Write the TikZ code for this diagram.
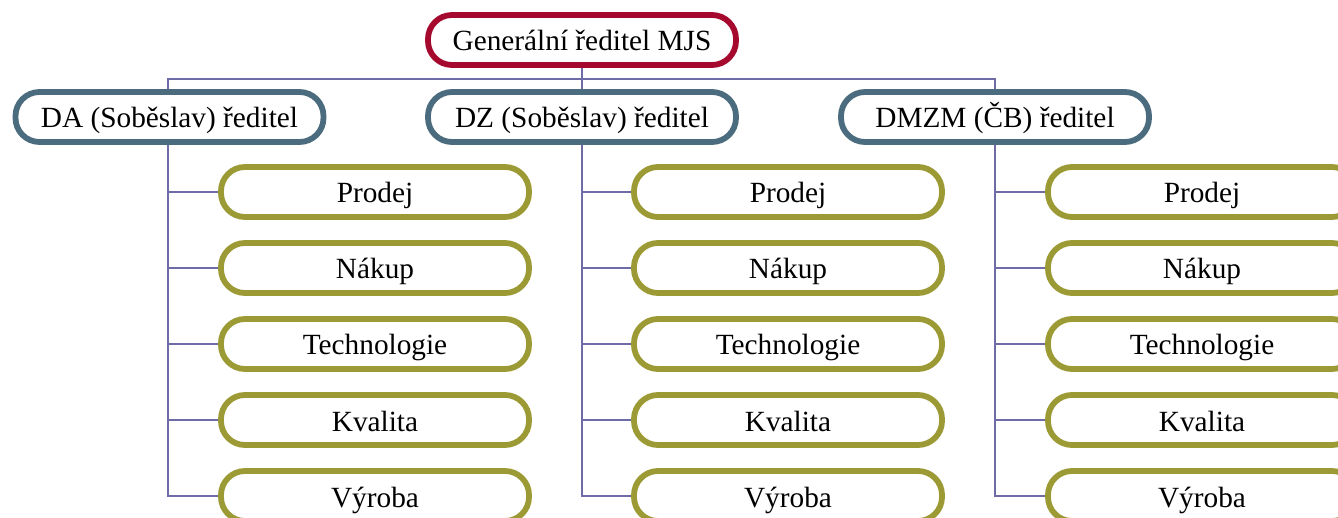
\documentclass[tikz,border=0pt]{standalone}
\usepackage{fontspec}
\setmainfont{Liberation Serif}
\definecolor{topred}{HTML}{A50A2E}
\definecolor{midblue}{HTML}{4B6B7E}
\definecolor{olive}{HTML}{9C9A35}
\definecolor{linkc}{HTML}{6E6BA6}
\tikzset{
  box/.style={draw, line width=5.8pt, fill=white, rounded corners=24pt,
    minimum width=308pt, minimum height=50pt, inner sep=0pt,
    text height=27pt, text depth=5pt,
    font=\fontsize{29.3}{34}\selectfont},
  topbox/.style={box, draw=topred},
  midbox/.style={box, draw=midblue},
  leafbox/.style={box, draw=olive},
  link/.style={draw=linkc, line width=1.5pt}
}
\begin{document}
\begin{tikzpicture}[x=1pt,y=-1pt]
\useasboundingbox (0,0) rectangle (1338,518);
\clip (0,0) rectangle (1338,518);
\coordinate (bus) at (582,79);
\coordinate (ca) at (168,117);
% nodes
\node[topbox] (top) at (582,40) {Generální ředitel MJS};
\node[midbox] (da) at (169.5,117) {DA (Soběslav) ředitel};
\node[midbox] (dz) at (582,117) {DZ (Soběslav) ředitel};
\node[midbox] (dm) at (995,117) {DMZM (ČB) ředitel};
\foreach \n/\t [count=\i from 0] in {1/Prodej,2/Nákup,3/Technologie,4/Kvalita,5/Výroba}{
  \node[leafbox] (a\n) at (375,192+76*\i) {\t};
  \node[leafbox] (z\n) at (788,192+76*\i) {\t};
  \node[leafbox] (m\n) at (1202,192+76*\i) {\t};
}
% connectors
\draw[link] (top.south) -- (dz.north);
\draw[link] (da.north -| ca) |- (bus) -| (dm.north);
\foreach \n in {1,...,5}{
  \draw[link] (da.south -| ca) |- (a\n.west);
  \draw[link] (dz.south) |- (z\n.west);
  \draw[link] (dm.south) |- (m\n.west);
}
\end{tikzpicture}
\end{document}
